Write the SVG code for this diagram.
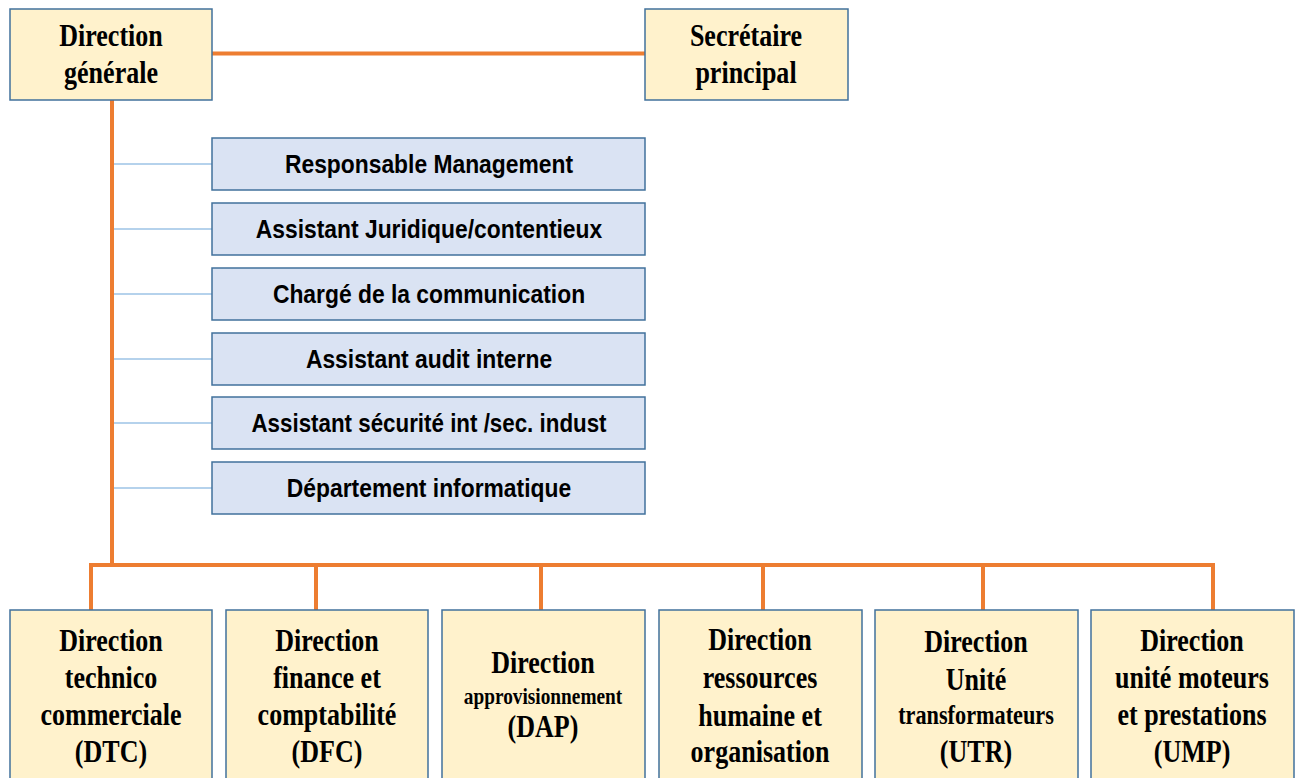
<svg xmlns="http://www.w3.org/2000/svg" width="1300" height="778" viewBox="0 0 1300 778">
<style>
.y{fill:#fff2cc;stroke:#41719c;stroke-width:1.5}
.b{fill:#dae3f3;stroke:#41719c;stroke-width:1.5}
.t{font-family:"Liberation Serif","Times New Roman",serif;font-weight:bold;font-size:31px;fill:#000;text-anchor:middle}
.s{font-size:23px}
.u{font-size:26.5px}
.m{font-family:"Liberation Sans",Arial,sans-serif;font-weight:bold;font-size:25px;fill:#000;text-anchor:middle}
.o{stroke:#ed7d31;stroke-width:4;fill:none}
.l{stroke:#9dc3e6;stroke-width:1.3;fill:none}
</style>
<rect width="1300" height="778" fill="#fff"/>
<g id="connectors">
<line class="o" x1="212" y1="53.5" x2="645" y2="53.5"/>
<line class="o" x1="112" y1="100" x2="112" y2="565"/>
<polyline class="o" points="91,610 91,565 1213,565 1213,610"/>
<line class="o" x1="316" y1="565" x2="316" y2="610"/>
<line class="o" x1="541" y1="565" x2="541" y2="610"/>
<line class="o" x1="763" y1="565" x2="763" y2="610"/>
<line class="o" x1="983" y1="565" x2="983" y2="610"/>
<line class="l" x1="114" y1="164" x2="212" y2="164"/>
<line class="l" x1="114" y1="229" x2="212" y2="229"/>
<line class="l" x1="114" y1="294" x2="212" y2="294"/>
<line class="l" x1="114" y1="359" x2="212" y2="359"/>
<line class="l" x1="114" y1="423" x2="212" y2="423"/>
<line class="l" x1="114" y1="488" x2="212" y2="488"/>
</g>
<g id="dg"><rect class="y" x="10" y="9" width="202" height="91"/>
<text class="t" transform="translate(111 46) scale(0.84 1)">Direction</text><text class="t" transform="translate(111 83) scale(0.84 1)">générale</text></g>
<g id="sp"><rect class="y" x="645" y="9" width="203" height="91"/>
<text class="t" transform="translate(746 46) scale(0.84 1)">Secrétaire</text><text class="t" transform="translate(746 83) scale(0.84 1)">principal</text></g>
<g id="rm"><rect class="b" x="212" y="138" width="433" height="52"/><text class="m" transform="translate(429 173) scale(0.914 1)">Responsable Management</text></g>
<g id="aj"><rect class="b" x="212" y="203" width="433" height="52"/><text class="m" transform="translate(429 238) scale(0.914 1)">Assistant Juridique/contentieux</text></g>
<g id="cc"><rect class="b" x="212" y="268" width="433" height="52"/><text class="m" transform="translate(429 303) scale(0.914 1)">Chargé de la communication</text></g>
<g id="aa"><rect class="b" x="212" y="333" width="433" height="52"/><text class="m" transform="translate(429 368) scale(0.914 1)">Assistant audit interne</text></g>
<g id="as"><rect class="b" x="212" y="397" width="433" height="52"/><text class="m" transform="translate(429 432) scale(0.894 1)">Assistant sécurité int /sec. indust</text></g>
<g id="di"><rect class="b" x="212" y="462" width="433" height="52"/><text class="m" transform="translate(429 497) scale(0.914 1)">Département informatique</text></g>
<g id="dtc"><rect class="y" x="10" y="610" width="202" height="200"/>
<text class="t" transform="translate(111 651) scale(0.84 1)">Direction</text><text class="t" transform="translate(111 688) scale(0.84 1)">technico</text><text class="t" transform="translate(111 725) scale(0.84 1)">commerciale</text><text class="t" transform="translate(111 762) scale(0.84 1)">(DTC)</text></g>
<g id="dfc"><rect class="y" x="226" y="610" width="202" height="200"/>
<text class="t" transform="translate(327 651) scale(0.84 1)">Direction</text><text class="t" transform="translate(327 688) scale(0.84 1)">finance et</text><text class="t" transform="translate(327 725) scale(0.84 1)">comptabilité</text><text class="t" transform="translate(327 762) scale(0.84 1)">(DFC)</text></g>
<g id="dap"><rect class="y" x="442" y="610" width="203" height="200"/>
<text class="t" transform="translate(543 673) scale(0.84 1)">Direction</text><text class="t s" transform="translate(543 704) scale(0.84 1)">approvisionnement</text><text class="t" transform="translate(543 737) scale(0.84 1)">(DAP)</text></g>
<g id="drh"><rect class="y" x="659" y="610" width="203" height="200"/>
<text class="t" transform="translate(760 650) scale(0.84 1)">Direction</text><text class="t" transform="translate(760 688) scale(0.84 1)">ressources</text><text class="t" transform="translate(760 726) scale(0.84 1)">humaine et</text><text class="t" transform="translate(760 762) scale(0.84 1)">organisation</text></g>
<g id="utr"><rect class="y" x="875" y="610" width="203" height="200"/>
<text class="t" transform="translate(976 652) scale(0.84 1)">Direction</text><text class="t" transform="translate(976 690) scale(0.84 1)">Unité</text><text class="t u" transform="translate(976 724) scale(0.84 1)">transformateurs</text><text class="t" transform="translate(976 762) scale(0.84 1)">(UTR)</text></g>
<g id="ump"><rect class="y" x="1091" y="610" width="203" height="200"/>
<text class="t" transform="translate(1192 651) scale(0.84 1)">Direction</text><text class="t" transform="translate(1192 688) scale(0.84 1)">unité moteurs</text><text class="t" transform="translate(1192 725) scale(0.84 1)">et prestations</text><text class="t" transform="translate(1192 762) scale(0.84 1)">(UMP)</text></g>
</svg>
